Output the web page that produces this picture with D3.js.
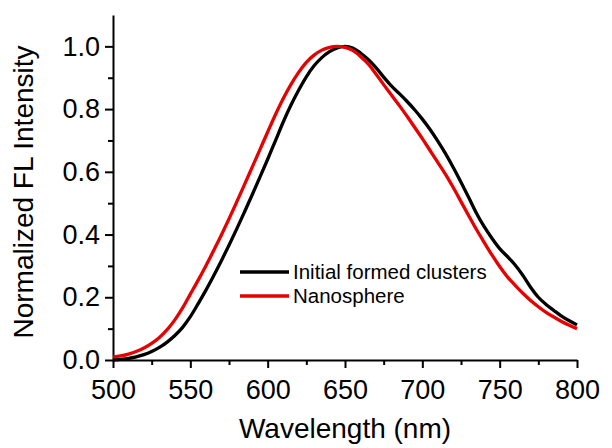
<!DOCTYPE html>
<html>
<head>
<meta charset="utf-8">
<script src="https://cdn.jsdelivr.net/npm/d3@7"></script>
<style>
  html, body { margin: 0; padding: 0; background: #fff; }
  svg { display: block; font-family: "Liberation Sans", Arial, sans-serif; }
  .axis path, .axis line { stroke: #000; stroke-width: 2; }
  .axis text { font-size: 27px; fill: #000; }
</style>
</head>
<body>
<div id="chart"></div>
<script>
  const wavelengths = [500, 505, 510, 515, 520, 525, 530, 535, 540, 545, 550, 555, 560, 565, 570, 575,
    580, 585, 590, 595, 600, 605, 610, 615, 620, 625, 630, 635, 640, 645, 650, 655, 660, 665, 670, 675,
    680, 685, 690, 695, 700, 705, 710, 715, 720, 725, 730, 735, 740, 745, 750, 755, 760, 765, 770, 775,
    780, 785, 790, 795, 800];

  const clusters = [0.0, 0.002, 0.005, 0.01, 0.017, 0.027, 0.04, 0.057, 0.078, 0.104, 0.138, 0.179,
    0.222, 0.268, 0.316, 0.366, 0.418, 0.472, 0.527, 0.583, 0.64, 0.699, 0.758, 0.812, 0.86, 0.903,
    0.938, 0.964, 0.983, 0.995, 1.0, 0.995, 0.979, 0.958, 0.932, 0.902, 0.874, 0.85, 0.825, 0.798,
    0.768, 0.735, 0.698, 0.658, 0.614, 0.567, 0.518, 0.468, 0.425, 0.388, 0.355, 0.33, 0.303, 0.27,
    0.232, 0.2, 0.177, 0.158, 0.14, 0.125, 0.112];

  const nanosphere = [0.01, 0.013, 0.019, 0.027, 0.038, 0.053, 0.072, 0.097, 0.128, 0.166, 0.21, 0.254,
    0.3, 0.348, 0.398, 0.45, 0.504, 0.559, 0.615, 0.671, 0.727, 0.782, 0.833, 0.878, 0.917, 0.949,
    0.972, 0.988, 0.997, 1.0, 0.997, 0.987, 0.968, 0.944, 0.912, 0.878, 0.845, 0.812, 0.778, 0.742,
    0.706, 0.668, 0.63, 0.592, 0.55, 0.505, 0.46, 0.416, 0.375, 0.335, 0.298, 0.265, 0.238, 0.213,
    0.19, 0.17, 0.152, 0.137, 0.123, 0.111, 0.1];

  const seriesNames = ["Initial formed clusters", "Nanosphere"];
  const seriesColors = ["#000000", "#e60000"];
  const xTicks = [500, 550, 600, 650, 700, 750, 800];
  const xMinor = [525, 575, 625, 675, 725, 775];
  const yTicks = [0.0, 0.2, 0.4, 0.6, 0.8, 1.0];
  const yMinor = [0.1, 0.3, 0.5, 0.7, 0.9];

  const width = 612, height = 448;
  const margin = { top: 15, right: 35, bottom: 88, left: 113 };
  const innerWidth = width - margin.left - margin.right;
  const innerHeight = height - margin.top - margin.bottom;

  const svg = d3.select("#chart")
    .append("svg")
    .attr("width", width)
    .attr("height", height);

  const g = svg.append("g")
    .attr("transform", `translate(${margin.left},${margin.top})`);

  const x = d3.scaleLinear().domain([500, 800]).range([0, innerWidth]);
  const y = d3.scaleLinear().domain([0, 1.1]).range([innerHeight, 0]);

  // minor ticks (no labels), then the labelled axes on top
  const xm = g.append("g")
    .attr("class", "axis")
    .attr("transform", `translate(0,${innerHeight})`)
    .call(d3.axisBottom(x).tickValues(xMinor).tickSize(5));
  xm.select(".domain").remove();
  xm.selectAll("text").remove();

  const ym = g.append("g")
    .attr("class", "axis")
    .call(d3.axisLeft(y).tickValues(yMinor).tickSize(5));
  ym.select(".domain").remove();
  ym.selectAll("text").remove();

  g.append("g")
    .attr("class", "axis")
    .attr("transform", `translate(0,${innerHeight})`)
    .call(d3.axisBottom(x).tickValues(xTicks).tickSize(8).tickPadding(12).tickSizeOuter(0));

  g.append("g")
    .attr("class", "axis")
    .call(d3.axisLeft(y).tickValues(yTicks).tickSize(8).tickPadding(5)
      .tickFormat(d3.format(".1f")).tickSizeOuter(0));

  const line = d3.line()
    .x(d => x(d[0]))
    .y(d => y(d[1]))
    .curve(d3.curveMonotoneX);

  [clusters, nanosphere].forEach((vals, i) => {
    g.append("path")
      .datum(wavelengths.map((w, j) => [w, vals[j]]))
      .attr("fill", "none")
      .attr("stroke", seriesColors[i])
      .attr("stroke-width", 3.3)
      .attr("stroke-linejoin", "round")
      .attr("d", line);
  });

  g.append("text")
    .attr("x", innerWidth / 2)
    .attr("y", innerHeight + 78)
    .attr("text-anchor", "middle")
    .attr("font-size", 28)
    .text("Wavelength (nm)");

  g.append("text")
    .attr("transform", "rotate(-90)")
    .attr("x", -177)
    .attr("y", -80)
    .attr("text-anchor", "middle")
    .attr("font-size", 28)
    .text("Normalized FL Intensity");

  const legend = g.append("g")
    .attr("transform", `translate(${240 - margin.left},${272 - margin.top})`);

  seriesNames.forEach((name, i) => {
    const row = legend.append("g").attr("transform", `translate(0,${i * 24})`);
    row.append("line")
      .attr("x1", 0).attr("x2", 49)
      .attr("stroke", seriesColors[i])
      .attr("stroke-width", 3.5);
    row.append("text")
      .attr("x", 53)
      .attr("dy", "0.36em")
      .attr("font-size", 20.5)
      .text(name);
  });
</script>
</body>
</html>
